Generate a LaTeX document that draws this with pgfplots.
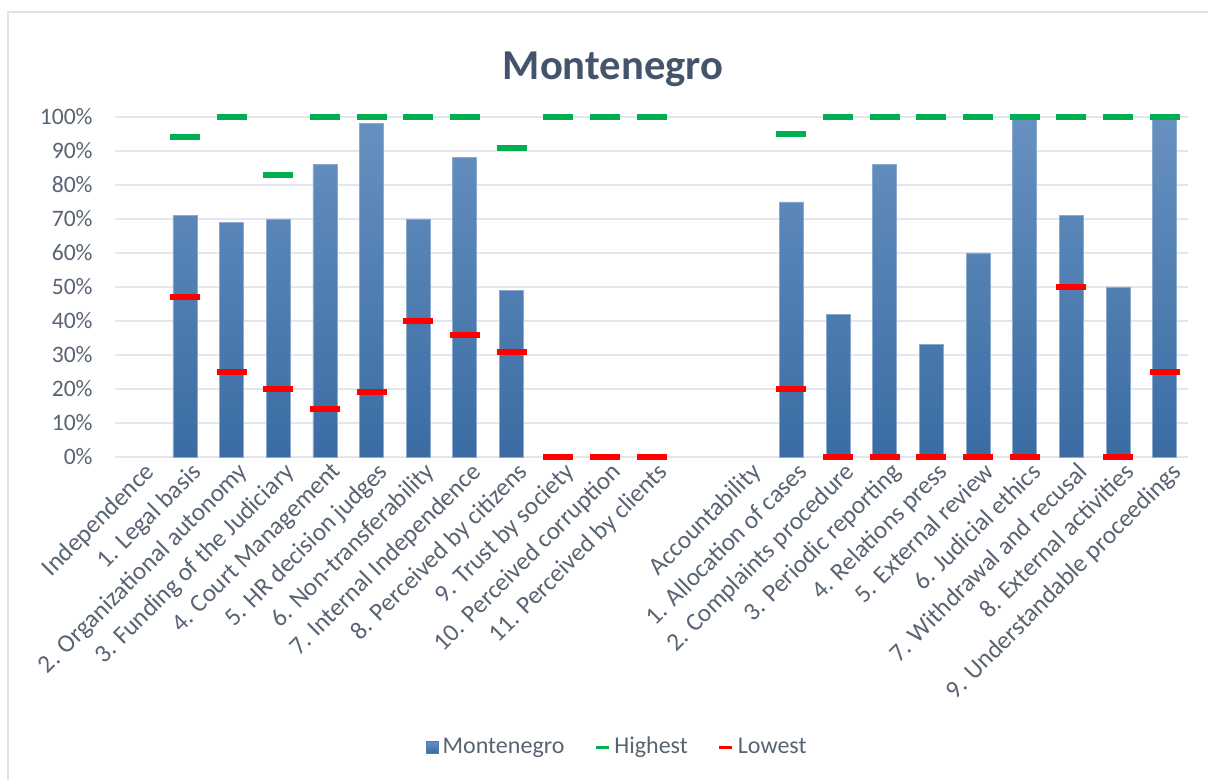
\documentclass[border=0pt]{standalone}
\usepackage{fontspec}
\setmainfont{Carlito}
\usepackage{pgfplots}
\pgfplotsset{compat=1.18}

\definecolor{titlecol}{HTML}{44546A}
\definecolor{labcol}{HTML}{586374}
\definecolor{gridcol}{HTML}{E3E6EB}
\definecolor{framecol}{HTML}{DDE2EA}
\definecolor{bartop}{HTML}{6791C0}
\definecolor{barmid}{HTML}{4A7FB8}
\definecolor{barbot}{HTML}{3A6CA3}
\definecolor{baredge}{HTML}{8AAAD0}
\definecolor{hicol}{HTML}{00B050}
\definecolor{locol}{HTML}{FF0000}

% scale: 1 px of the reference = 0.5pt
\begin{document}
\begin{tikzpicture}
\begin{axis}[
    name=main,
    at={(0,0)}, anchor=south west,
    scale only axis,
    width=536.5pt, height=170pt,
    xmin=-0.5, xmax=22.5,
    ymin=0, ymax=100,
    clip=false,
    axis line style={draw=none},
    major tick length=0pt,
    ymajorgrids,
    grid style={gridcol, line width=0.8pt},
    ytick={0,10,...,100},
    yticklabel={\pgfmathprintnumber{\tick}\%},
    /pgf/number format/assume math mode=true,
    yticklabel style={font=\fontsize{11.8}{13}\selectfont, text=labcol, inner sep=0pt, xshift=-11pt},
    xtick={0,...,22},
    xticklabels={Independence, 1. Legal basis, 2. Organizational autonomy,
      3. Funding of the Judiciary, 4. Court Management, 5. HR decision judges,
      6. Non-transferability, 7. Internal Independence, 8. Perceived by citizens,
      9. Trust by society, 10. Perceived corruption, 11. Perceived by clients,
      {}, Accountability, 1. Allocation of cases, 2. Complaints procedure,
      3. Periodic reporting, 4. Relations press, 5. External review,
      6. Judicial ethics, 7. Withdrawal and recusal, 8. External activities,
      9. Understandable proceedings},
    xticklabel style={font=\fontsize{12.6}{14}\selectfont, text=labcol, rotate=45,
      anchor=north east, inner sep=0pt, xshift=0.5pt, yshift=-3pt},
    legend columns=3,
    legend style={draw=none, fill=none, at={(axis description cs:0.469,-0.853)}, anchor=center,
      font=\fontsize{12}{13}\selectfont, text=labcol,
      /tikz/every even column/.append style={column sep=13pt},
      nodes={inner sep=2pt}},
]
\addplot[ybar, bar width=12pt, draw=baredge, line width=0.4pt,
    top color=bartop, middle color=barmid, bottom color=barbot,
    legend image code/.code={\fill[barmid] (0pt,-3pt) rectangle (6pt,3pt);}]
  coordinates {
    (1,71) (2,69) (3,70) (4,86) (5,98) (6,70) (7,88) (8,49)
    (9,0.6) (10,0.6) (11,0.6)
    (14,75) (15,42) (16,86) (17,33) (18,60) (19,100) (20,71) (21,50) (22,100)
  };
\addlegendentry{Montenegro}
\addplot[only marks, mark=-, mark size=7.5pt, mark options={line width=3pt, hicol}, color=hicol,
    legend image code/.code={\draw[hicol, line width=1.5pt] (0pt,0pt) -- (6.5pt,0pt);}]
  coordinates {
    (1,94) (2,100) (3,83) (4,100) (5,100) (6,100) (7,100) (8,91)
    (9,100) (10,100) (11,100)
    (14,95) (15,100) (16,100) (17,100) (18,100) (19,100) (20,100) (21,100) (22,100)
  };
\addlegendentry{Highest}
\addplot[only marks, mark=-, mark size=7.5pt, mark options={line width=3pt, locol}, color=locol,
    legend image code/.code={\draw[locol, line width=1.5pt] (0pt,0pt) -- (6.5pt,0pt);}]
  coordinates {
    (1,47) (2,25) (3,20) (4,14) (5,19) (6,40) (7,36) (8,31)
    (9,0) (10,0) (11,0)
    (14,20) (15,0) (16,0) (17,0) (18,0) (19,0) (20,50) (21,0) (22,25)
  };
\addlegendentry{Lowest}
\node[anchor=base, font=\fontsize{21.3}{24}\selectfont\bfseries, text=titlecol]
  at ([xshift=249pt, yshift=18.5pt]rel axis cs:0,1) {Montenegro};
\end{axis}
% chart area frame (only top and left edges are visible in the reference)
\draw[framecol, line width=1pt]
  ([xshift=-53.5pt, yshift=-161.5pt]main.south west) --
  ([xshift=-53.5pt, yshift=52.5pt]main.north west) --
  ([xshift=10pt, yshift=52.5pt]main.north east);
\pgfresetboundingbox
\path[use as bounding box]
  ([xshift=-57.5pt, yshift=-161.5pt]main.south west) rectangle
  ([xshift=10pt, yshift=58.5pt]main.north east);
\end{tikzpicture}
\end{document}
